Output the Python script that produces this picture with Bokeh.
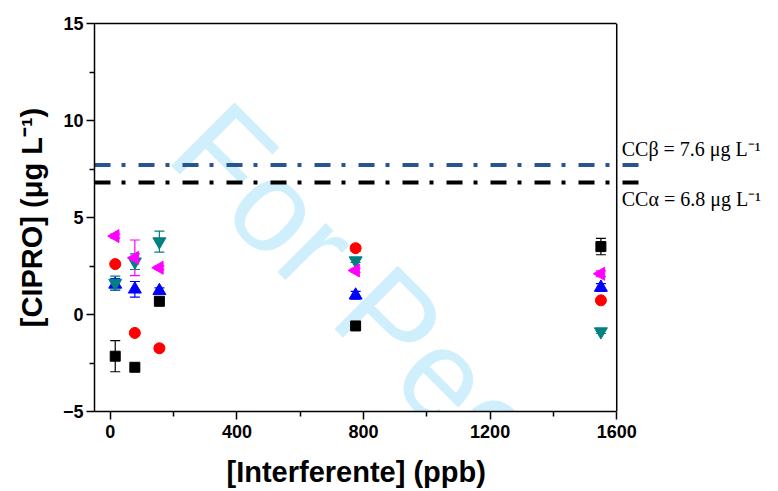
import numpy as np
from bokeh.plotting import figure
from bokeh.models import (Range1d, LinearAxis, FixedTicker, Span, Label, Whisker,
                          ColumnDataSource, TeeHead, Title)
from bokeh.embed import file_html
from bokeh.resources import INLINE

# ---- data ----
conc = [15.5, 77.5, 155, 775, 1550]            # [Interferente] (ppb)
black_sq = [-2.15, -2.72, 0.68, -0.59, 3.50]
black_err = [0.80, 0.10, 0.10, 0.10, 0.42]
red_ci = [2.60, -0.95, -1.74, 3.42, 0.73]
red_err = [0.10, 0.10, 0.15, 0.15, 0.10]
blue_up = [1.55, 1.30, 1.22, 0.99, 1.39]
blue_err = [0.30, 0.40, 0.15, 0.20, 0.20]
teal_dn = [1.62, 2.72, 3.76, 2.78, -0.88]
teal_err = [0.36, 0.40, 0.54, 0.10, 0.10]
mag_lt = [4.04, 2.92, 2.41, 2.27, 2.10]
mag_err = [0.10, 0.92, 0.10, 0.10, 0.15]
cc_beta = 7.7
cc_alpha = 6.8
cc_beta_text = "CCβ = 7.6 μg L⁻¹"
cc_alpha_text = "CCα = 6.8 μg L⁻¹"
x_ticks = [0, 400, 800, 1200, 1600]
x_minor = [200, 600, 1000, 1400]
y_ticks = [-5, 0, 5, 10, 15]
y_minor = [-2.5, 2.5, 7.5, 12.5]

X_LO, X_HI = -50, 1600          # axis extent
LINE_END = 1675                  # limit lines run a little past the frame
W, H = 778, 491
LEFT, TOP, BOTTOM = 94, 23, 80
PX_PER_X = 0.3165
x_view_end = X_LO + (W - LEFT) / PX_PER_X

p = figure(width=W, height=H, x_range=Range1d(X_LO, x_view_end), y_range=Range1d(-5, 15),
           output_backend="svg", toolbar_location=None,
           x_axis_location=None, y_axis_location=None,
           min_border_left=LEFT, min_border_right=0, min_border_top=TOP, min_border_bottom=BOTTOM)
p.outline_line_color = None
p.xgrid.visible = False
p.ygrid.visible = False
p.background_fill_color = "white"
p.border_fill_color = "white"

# watermark
p.add_layout(Label(x=269, y=9.7, text="For Peer Review", angle=-45, angle_units="deg",
                   text_font="Liberation Sans", text_font_size="130px",
                   text_color="#CFEFFC", text_baseline="alphabetic", level="underlay"))

def style_axis(ax):
    ax.axis_line_width = 1.5
    ax.axis_line_color = "black"
    ax.major_tick_line_width = 1.5
    ax.minor_tick_line_width = 1.5
    ax.major_tick_in = 0
    ax.major_tick_out = 8
    ax.minor_tick_in = 0
    ax.minor_tick_out = 5
    ax.major_label_text_font = "Liberation Sans"
    ax.major_label_text_font_style = "bold"
    ax.major_label_text_font_size = "18px"
    ax.major_label_text_color = "black"
    ax.axis_label_text_font = "Liberation Sans"
    ax.axis_label_text_font_style = "bold"
    ax.axis_label_text_font_size = "29px"
    ax.axis_label_text_color = "black"

xax = LinearAxis(ticker=FixedTicker(ticks=x_ticks, minor_ticks=x_minor), bounds=(X_LO, X_HI))
style_axis(xax)
xax.major_label_standoff = 5
p.add_layout(xax, "below")

# small blank spacer between the tick labels and the axis title
p.add_layout(Title(text=" ", text_font_size="8px", standoff=0), "below")

p.add_layout(Title(text="[Interferente] (ppb)", align="left", offset=132, standoff=4,
                   text_font="Liberation Sans", text_font_style="bold",
                   text_font_size="29px", text_color="black"), "below")

yax = LinearAxis(ticker=FixedTicker(ticks=y_ticks, minor_ticks=y_minor),
                 axis_label="[CIPRO] (μg L⁻¹)")
style_axis(yax)
yax.major_label_standoff = 3
yax.axis_label_standoff = 12
p.add_layout(yax, "left")

top = LinearAxis(ticker=FixedTicker(ticks=[]), bounds=(X_LO, X_HI))
top.axis_line_width = 1.5
top.major_tick_out = 0
top.minor_tick_out = 0
top.major_label_text_font_size = "0px"
p.add_layout(top, "above")

p.add_layout(Span(location=X_HI, dimension="height", line_color="black", line_width=1.5))

# limit lines
p.segment(x0=[X_LO], x1=[LINE_END], y0=[cc_beta], y1=[cc_beta], line_color="#2A5490",
          line_width=4, line_dash="16 11 4 13")
p.segment(x0=[X_LO], x1=[LINE_END], y0=[cc_alpha], y1=[cc_alpha], line_color="black",
          line_width=4, line_dash="16 11 4 13")
p.add_layout(Label(x=X_HI, y=cc_beta, x_offset=5, y_offset=16, text=cc_beta_text,
                   text_font="Liberation Serif", text_font_size="20px",
                   text_baseline="alphabetic", text_color="black"))
p.add_layout(Label(x=X_HI, y=cc_alpha, x_offset=5, y_offset=-16, text=cc_alpha_text,
                   text_font="Liberation Serif", text_font_size="20px",
                   text_baseline="alphabetic", text_color="black"))

series = [
    (black_sq, black_err, "black", "square", 0, 10),
    (red_ci, red_err, "#FF0000", "circle", 0, 11),
    (blue_up, blue_err, "#0000FF", "triangle", 0, 13),
    (teal_dn, teal_err, "#008080", "inverted_triangle", 0, 13),
    (mag_lt, mag_err, "#FF00FF", "triangle", np.pi / 2, 13),
]
for vals, errs, col, mk, ang, sz in series:
    src = ColumnDataSource(dict(x=conc, y=vals,
                                lo=[v - e for v, e in zip(vals, errs)],
                                hi=[v + e for v, e in zip(vals, errs)]))
    w = Whisker(source=src, base="x", lower="lo", upper="hi", line_color=col, line_width=1.2,
                upper_head=TeeHead(size=10, line_color=col, line_width=1.2),
                lower_head=TeeHead(size=10, line_color=col, line_width=1.2))
    p.add_layout(w)
    p.scatter("x", "y", source=src, marker=mk, angle=ang, size=sz,
              fill_color=col, line_color=col)

open("out.html", "w").write(file_html(p, INLINE))
